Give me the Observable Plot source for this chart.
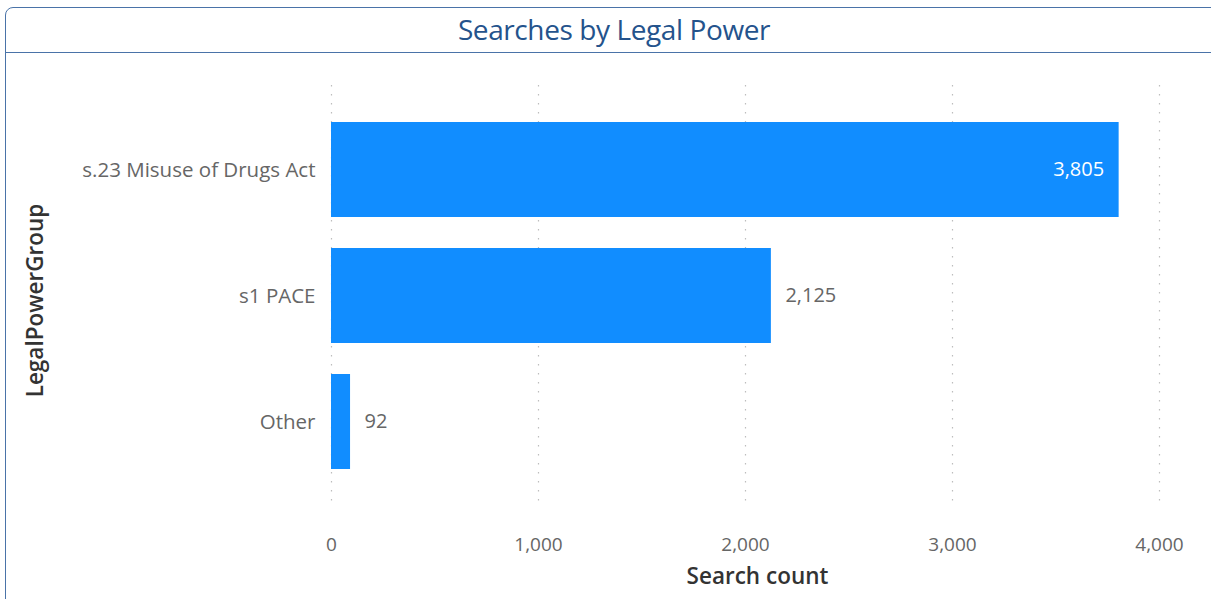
<!DOCTYPE html>
<html>
<head>
<meta charset="utf-8">
<script src="https://cdn.jsdelivr.net/npm/d3@7"></script>
<script src="https://cdn.jsdelivr.net/npm/@observablehq/plot@0.6"></script>
<style>
  html, body { margin: 0; padding: 0; background: #fff; overflow: hidden; }
  #wrap { position: relative; width: 1211px; height: 599px; font-family: "Open Sans", "Noto Sans", sans-serif; }
  #frame { position: absolute; left: 5px; top: 7px; width: 1240px; height: 640px; border: 1.5px solid #4a73a8; border-radius: 8px 0 0 0; box-sizing: border-box; }
  #header { position: absolute; left: 5px; top: 7px; width: 1240px; height: 46px; border-bottom: 1.5px solid #4a73a8; box-sizing: border-box; }
  #title { position: absolute; left: 0; top: 10px; width: 1228px; text-align: center; font-size: 28px; color: #24538c; font-weight: 400; letter-spacing: -0.4px; }
  #chart { position: absolute; left: 0; top: 52px; }
</style>
</head>
<body>
<div id="wrap">
  <div id="frame"></div>
  <div id="header"></div>
  <div id="title">Searches by Legal Power</div>
  <div id="chart"></div>
</div>
<script>
const categories = ["s.23 Misuse of Drugs Act", "s1 PACE", "Other"];
const counts = [3805, 2125, 92];
const xTicks = [0, 1000, 2000, 3000, 4000];
const xLabel = "Search count";
const yLabel = "LegalPowerGroup";

const data = categories.map((c, i) => ({category: c, count: counts[i]}));
const fmt = d3.format(",");

const chart = Plot.plot({
  width: 1211,
  height: 547,
  marginLeft: 331,
  marginRight: 52,
  marginTop: 33,
  marginBottom: 94,
  style: {fontFamily: "'Open Sans', 'Noto Sans', sans-serif", background: "transparent"},
  x: {domain: [0, 4000], ticks: xTicks, tickFormat: fmt, label: null},
  y: {domain: categories, paddingInner: 0.25, paddingOuter: 0.29, label: null},
  marks: [
    Plot.gridX(xTicks, {stroke: "#bdbdbd", strokeOpacity: 1, strokeDasharray: "1.5,7.5", strokeWidth: 1.2}),
    Plot.barX(data, {x: "count", y: "category", fill: "#118DFF"}),
    Plot.text(data.filter(d => d.count > 3000), {x: "count", y: "category", text: d => fmt(d.count), textAnchor: "end", dx: -15, fill: "#ffffff", fontSize: 20}),
    Plot.text(data.filter(d => d.count <= 3000), {x: "count", y: "category", text: d => fmt(d.count), textAnchor: "start", dx: 14, fill: "#666666", fontSize: 20}),
    Plot.axisX(xTicks, {tickSize: 0, tickPadding: 32, tickFormat: fmt, fontSize: 19, fill: "#666666", label: null}),
    Plot.axisY({tickSize: 0, tickPadding: 16, fontSize: 20.5, fill: "#666666", label: null}),
    Plot.text([xLabel], {frameAnchor: "bottom", dy: 78, dx: 12, fontSize: 22.5, fill: "#333333", fontWeight: 600}),
    Plot.text([yLabel], {frameAnchor: "left", textAnchor: "middle", dx: -296, dy: 5, rotate: -90, fontSize: 22.5, fill: "#333333", fontWeight: 600})
  ]
});
document.getElementById("chart").appendChild(chart);
</script>
</body>
</html>
